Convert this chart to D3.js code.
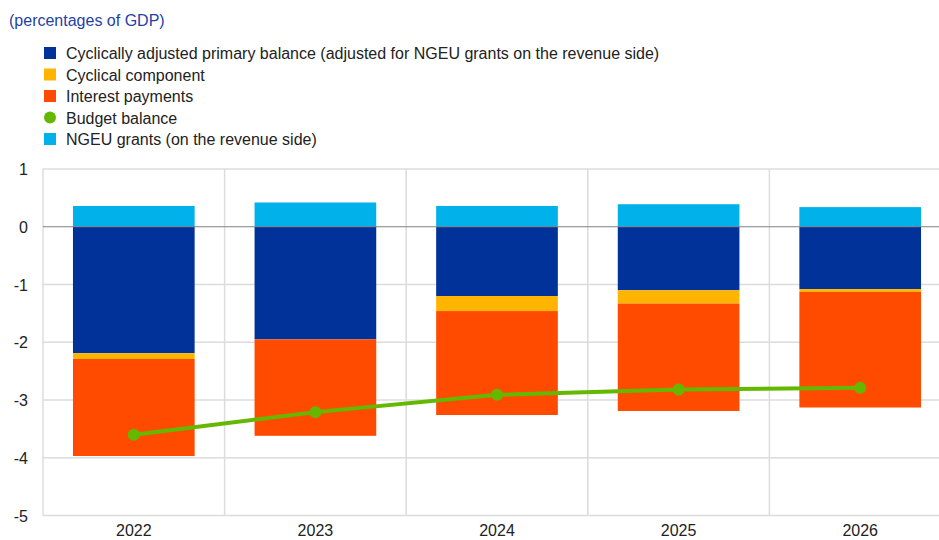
<!DOCTYPE html>
<html>
<head>
<meta charset="utf-8">
<script src="https://cdn.jsdelivr.net/npm/d3@7"></script>
<style>
  body { margin: 0; background: #fff; }
  svg { font-family: "Liberation Sans", Arial, sans-serif; }
</style>
</head>
<body>
<div id="chartContainer"></div>
<script>
var years = ["2022", "2023", "2024", "2025", "2026"];
var capb = [-2.19, -1.95, -1.20, -1.10, -1.08];
var cyclical = [-0.10, 0.00, -0.26, -0.23, -0.05];
var interest = [-1.68, -1.67, -1.80, -1.86, -2.00];
var ngeu = [0.36, 0.42, 0.36, 0.39, 0.34];
var budgetBalance = [-3.60, -3.21, -2.91, -2.82, -2.79];
var yTicks = [1, 0, -1, -2, -3, -4, -5];

var legendItems = [
  {label: "Cyclically adjusted primary balance (adjusted for NGEU grants on the revenue side)", color: "#003299", shape: "rect"},
  {label: "Cyclical component", color: "#FFB400", shape: "rect"},
  {label: "Interest payments", color: "#FF4B00", shape: "rect"},
  {label: "Budget balance", color: "#65B800", shape: "circle"},
  {label: "NGEU grants (on the revenue side)", color: "#00B1EA", shape: "rect"}
];

var config = {
  w: 939,
  h: 540,
  left: 43,
  right: 951,
  top: 169,
  bot: 515.5
}

var svg = d3.select("#chartContainer").append("svg")
  .attr("width", config.w)
  .attr("height", config.h);

// title
svg.append("text")
  .attr("x", 9)
  .attr("y", 26)
  .style("font-size", "16px")
  .style("fill", "#1f42a6")
  .text("(percentages of GDP)");

// legend
var legend = svg.append("g").attr("class", "legend");
legendItems.forEach(function(d, i) {
  var cy = 53 + i * 21.5;
  if (d.shape == "rect") {
    legend.append("rect")
      .attr("x", 44).attr("y", cy - 6)
      .attr("width", 12).attr("height", 12)
      .style("fill", d.color);
  } else {
    legend.append("circle")
      .attr("cx", 50).attr("cy", cy)
      .attr("r", 6)
      .style("fill", d.color);
  }
  legend.append("text")
    .attr("x", 66)
    .attr("y", cy + 6)
    .style("font-size", "16px")
    .style("fill", "#222")
    .text(d.label);
});

var x = d3.scaleBand()
  .domain(years)
  .range([config.left, config.right])
  .paddingInner(0.33)
  .paddingOuter(0.165);

var xOuter = d3.scaleBand()
  .domain(years)
  .range([config.left, config.right]);

var y = d3.scaleLinear()
  .domain([-5, 1])
  .range([config.bot, config.top]);

var grid = svg.append("g").attr("class", "grid");

// horizontal gridlines
grid.selectAll(".hGrid")
  .data(yTicks.filter(function(d) { return d != 0; }))
  .enter().append("line")
  .attr("x1", config.left).attr("x2", config.right)
  .attr("y1", function(d) { return y(d); })
  .attr("y2", function(d) { return y(d); })
  .style("stroke", "#dcdcdc")
  .style("stroke-width", 1.5);

// vertical gridlines at category borders
grid.selectAll(".vGrid")
  .data(years)
  .enter().append("line")
  .attr("x1", function(d) { return xOuter(d); })
  .attr("x2", function(d) { return xOuter(d); })
  .attr("y1", config.top).attr("y2", config.bot)
  .style("stroke", "#dcdcdc")
  .style("stroke-width", 1.5);

// stacked bars: negatives go down from 0, NGEU goes up
var bars = svg.append("g").attr("class", "bars");
years.forEach(function(yr, i) {
  var segs = [
    {v0: 0, v1: ngeu[i], color: "#00B1EA"},
    {v0: 0, v1: capb[i], color: "#003299"},
    {v0: capb[i], v1: capb[i] + cyclical[i], color: "#FFB400"},
    {v0: capb[i] + cyclical[i], v1: capb[i] + cyclical[i] + interest[i], color: "#FF4B00"}
  ];
  bars.selectAll(".seg" + i)
    .data(segs)
    .enter().append("rect")
    .attr("x", x(yr))
    .attr("width", x.bandwidth())
    .attr("y", function(d) { return y(Math.max(d.v0, d.v1)); })
    .attr("height", function(d) { return Math.abs(y(d.v0) - y(d.v1)); })
    .style("fill", function(d) { return d.color; });
});

// zero line
svg.append("line")
  .attr("x1", config.left).attr("x2", config.right)
  .attr("y1", y(0)).attr("y2", y(0))
  .style("stroke", "#808080")
  .style("stroke-width", 1.2);

// budget balance line
var line = d3.line()
  .x(function(d, i) { return x(years[i]) + x.bandwidth() / 2; })
  .y(function(d) { return y(d); });

svg.append("path")
  .datum(budgetBalance)
  .attr("d", line)
  .style("fill", "none")
  .style("stroke", "#65B800")
  .style("stroke-width", 4);

svg.selectAll(".bbDot")
  .data(budgetBalance)
  .enter().append("circle")
  .attr("cx", function(d, i) { return x(years[i]) + x.bandwidth() / 2; })
  .attr("cy", function(d) { return y(d); })
  .attr("r", 6)
  .style("fill", "#65B800");

// y axis labels
svg.selectAll(".yLabel")
  .data(yTicks)
  .enter().append("text")
  .attr("x", 28)
  .attr("y", function(d) { return y(d) + 6; })
  .attr("text-anchor", "end")
  .style("font-size", "16px")
  .style("fill", "#222")
  .text(function(d) { return d; });

// x axis labels
svg.selectAll(".xLabel")
  .data(years)
  .enter().append("text")
  .attr("x", function(d) { return x(d) + x.bandwidth() / 2; })
  .attr("y", 536)
  .attr("text-anchor", "middle")
  .style("font-size", "16px")
  .style("fill", "#222")
  .text(function(d) { return d; });
</script>
</body>
</html>
